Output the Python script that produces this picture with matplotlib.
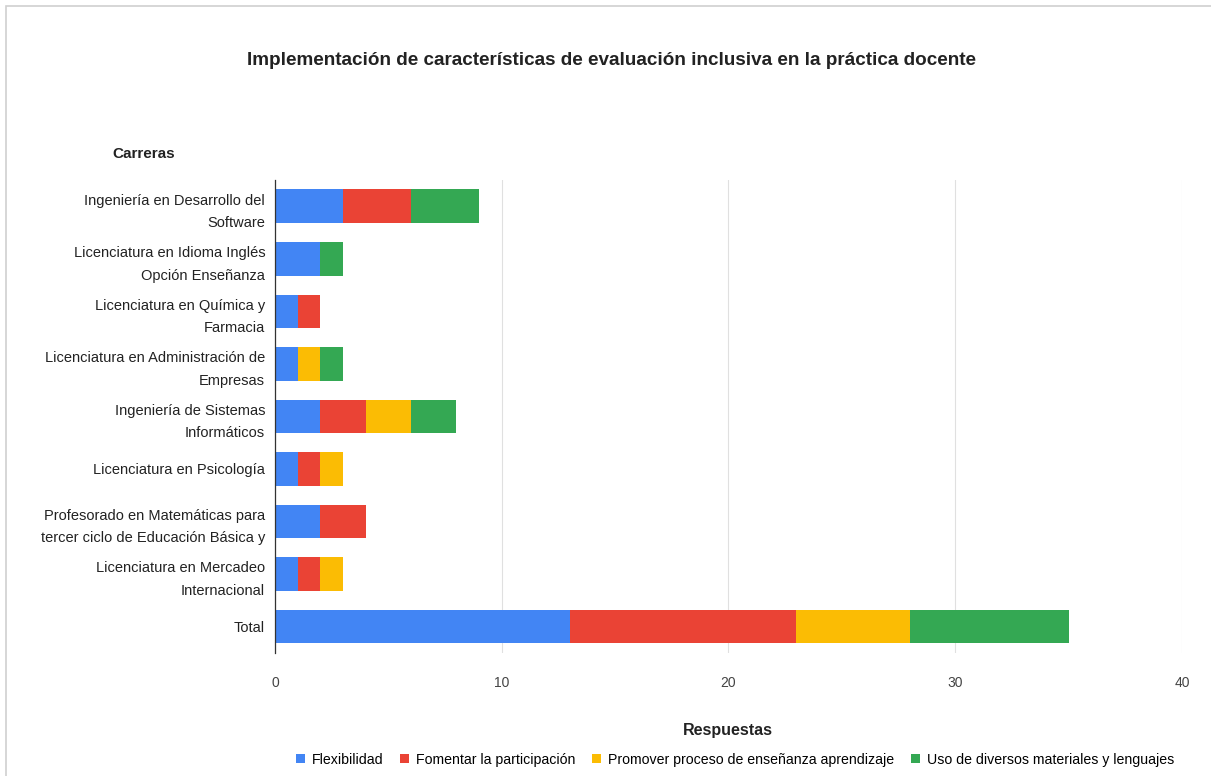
import matplotlib
matplotlib.use("Agg")
from matplotlib import pyplot as plt
import numpy as np

plt.rcParams['font.family'] = ['Liberation Sans', 'DejaVu Sans']

carreras = ["Ingeniería en Desarrollo del\nSoftware",
            "Licenciatura en Idioma Inglés\nOpción Enseñanza",
            "Licenciatura en Química y\nFarmacia",
            "Licenciatura en Administración de\nEmpresas",
            "Ingeniería de Sistemas\nInformáticos",
            "Licenciatura en Psicología",
            "Profesorado en Matemáticas para\ntercer ciclo de Educación Básica y",
            "Licenciatura en Mercadeo\nInternacional",
            "Total"]
series = ["Flexibilidad", "Fomentar la participación",
          "Promover proceso de enseñanza aprendizaje",
          "Uso de diversos materiales y lenguajes"]
flexibilidad = [3, 2, 1, 1, 2, 1, 2, 1, 13]
fomentar = [3, 0, 1, 0, 2, 1, 2, 1, 10]
promover = [0, 0, 0, 1, 2, 1, 0, 1, 5]
uso = [3, 1, 0, 1, 2, 0, 0, 0, 7]
colors = ["#4285F4", "#EA4335", "#FBBC04", "#34A853"]

fig = plt.figure(figsize=(12.11, 7.76), dpi=100)
ax = fig.add_axes([0.227, 0.159, 0.749, 0.609])

y = np.arange(len(carreras))
left = np.zeros(len(carreras))
for vals, c, name in zip([flexibilidad, fomentar, promover, uso], colors, series):
    ax.barh(y, vals, left=left, height=0.64, color=c, label=name, zorder=3)
    left += np.array(vals)

ax.set_ylim(len(carreras) - 0.5, -0.5)
ax.set_xlim(0, 40)
ax.set_xticks([0, 10, 20, 30, 40])
ax.set_yticks(y)
ax.set_yticklabels(carreras, fontsize=10.5, color="#222222", linespacing=1.75)
ax.tick_params(axis='x', labelsize=10, colors="#444444", length=0, pad=17)
ax.tick_params(axis='y', length=0, pad=7)
ax.grid(axis='x', color="#e0e0e0", linewidth=0.8, zorder=0)
for s in ['top', 'right', 'bottom']:
    ax.spines[s].set_visible(False)
ax.spines['left'].set_color("#333333")
ax.spines['left'].set_linewidth(0.9)
ax.spines['left'].set_zorder(4)

fig.text(0.505, 0.922, "Implementación de características de evaluación inclusiva en la práctica docente",
         ha='center', va='center', fontsize=13.6, fontweight='bold', color="#222222")
fig.text(0.093, 0.802, "Carreras", ha='left', va='center', fontsize=11,
         fontweight='bold', color="#222222")
fig.text(0.601, 0.058, "Respuestas", ha='center', va='center', fontsize=11.5,
         fontweight='bold', color="#222222")
fig.legend(loc='center', bbox_to_anchor=(0.607, 0.021), ncol=4, frameon=False,
           fontsize=10.2, handlelength=0.6, handleheight=0.6, handletextpad=0.5,
           columnspacing=1.2)

fig.patches.append(plt.Rectangle((0.005, -0.01), 1.0, 1.002, transform=fig.transFigure,
                                 fill=False, edgecolor="#d0d0d0", linewidth=1.2))

fig.savefig("out.png", dpi=100)
